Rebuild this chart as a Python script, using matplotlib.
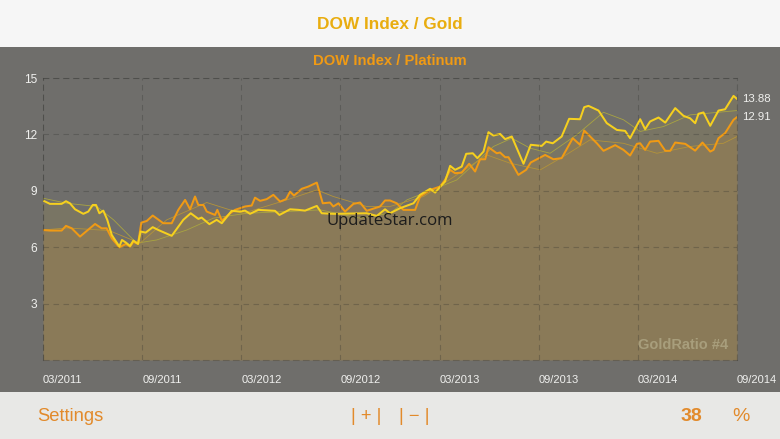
import matplotlib
matplotlib.use("Agg")
import matplotlib.pyplot as plt
from matplotlib.patches import Rectangle

# months since 03/2011
gold_months = [0,.42,1.13,1.39,1.63,1.94,2.44,2.74,3.01,3.21,3.41,3.65,3.89,4.16,4.62,4.78,5.02,5.27,5.47,5.75,5.91,6.21,6.64,6.98,7.79,8.49,8.94,9.40,9.60,10.07,10.51,10.82,11.42,11.92,12.23,12.53,13.03,14.04,14.31,14.95,15.46,15.86,16.57,16.87,17.57,19.59,20.2,20.70,21.0,21.61,22.42,22.82,23.43,23.73,24.33,24.64,24.94,25.34,25.61,26.01,26.29,26.66,26.96,27.26,27.66,27.97,28.37,29.08,29.52,30.18,30.45,30.85,31.39,31.84,32.5,32.75,33.01,33.62,34.12,34.73,35.23,35.53,36.14,36.44,36.74,37.25,37.66,38.26,38.76,39.16,39.47,39.67,39.97,40.38,40.88,41.28,41.79,42.0]
gold_ratio = [8.48,8.30,8.30,8.44,8.33,8.01,7.77,7.89,8.24,8.24,7.80,7.94,7.45,6.65,6.03,6.38,6.24,6.06,6.35,6.17,6.83,6.77,7.06,6.91,6.60,7.45,7.80,7.50,7.57,7.22,7.45,7.27,7.93,7.89,7.94,7.77,7.98,7.93,7.71,8.01,7.98,7.94,8.19,7.80,7.77,7.80,7.66,8.01,7.80,8.07,8.33,8.78,9.10,8.90,9.49,10.32,10.11,10.28,10.96,10.99,10.73,11.08,12.11,11.93,12.02,11.74,11.88,10.43,11.44,11.38,11.61,11.52,11.88,12.82,12.80,13.44,13.51,13.26,12.59,12.23,12.18,11.79,12.80,12.27,12.68,12.89,12.62,13.39,12.98,12.85,12.59,13.09,13.16,12.45,13.26,13.33,14.04,13.88]
plat_months = [0,.42,1.13,1.39,1.74,2.24,3.15,3.55,3.85,4.16,4.62,5.02,5.27,5.47,5.75,5.95,6.28,6.64,7.28,7.79,8.19,8.60,8.90,9.20,9.40,9.71,9.91,10.41,10.55,10.82,11.32,11.62,12.23,12.63,12.83,13.14,13.54,13.94,14.35,14.71,14.95,15.19,15.66,16.06,16.57,16.93,17.37,17.57,17.88,18.28,18.79,19.19,19.59,20.40,20.70,21.0,21.41,21.81,22.52,22.82,23.43,24.03,24.33,24.64,24.94,25.34,25.79,26.15,26.45,26.76,26.96,27.46,27.66,27.97,28.17,28.77,29.24,29.52,30.39,30.89,31.39,32.06,32.5,32.75,33.52,33.92,34.63,35.13,35.53,35.94,36.14,36.44,36.74,37.25,37.66,37.96,38.26,38.87,39.47,39.91,40.38,40.58,40.88,41.28,41.79,42.0]
plat_ratio = [6.91,6.88,6.88,7.13,7.00,6.56,7.23,7.00,7.00,6.47,5.99,6.17,6.03,6.29,6.17,7.30,7.39,7.68,7.27,7.27,7.98,8.51,8.01,8.69,8.24,8.24,7.89,7.71,7.98,7.41,7.80,7.98,8.16,8.21,8.63,8.46,8.55,8.78,8.42,8.55,8.95,8.74,9.10,9.22,9.43,8.33,8.37,8.16,8.33,7.89,8.30,8.37,7.93,8.16,8.48,8.48,8.33,7.98,7.98,8.69,9.04,9.22,9.57,10.11,9.93,9.96,10.43,10.02,10.67,10.67,11.31,10.99,11.03,10.78,10.78,9.84,10.11,10.50,10.90,10.67,10.73,11.79,11.44,12.20,11.52,11.12,11.42,11.17,10.87,11.49,11.52,11.17,11.61,11.65,11.12,11.12,11.56,11.49,11.13,11.56,11.08,11.17,11.79,12.06,12.77,12.91]
gold_avg_months = [0,1.45,3.25,4.27,5.67,6.88,8.70,10.31,12.33,14.75,16.77,19.19,21.0,22.02,25.04,27.26,28.37,29.48,30.69,32.3,33.92,35.13,36.14,37.55,39.16,42.0]
gold_avg = [8.60,8.33,8.16,7.45,6.21,6.38,6.91,7.54,7.80,7.89,7.98,7.54,7.80,8.51,9.57,11.35,11.79,11.26,10.99,11.97,13.17,12.77,12.15,12.41,13.03,13.26]
plat_avg_months = [0,1.45,4.0,5.87,7.49,9.91,11.32,12.13,14.75,16.57,17.57,19.59,21.0,23.03,25.04,26.86,28.27,30.1,31.5,33.1,35.13,37.15,39.16,41.18,42.0]
plat_avg = [6.91,7.02,6.88,6.21,7.45,8.37,7.98,7.80,8.51,9.04,8.69,8.16,8.16,8.69,9.84,10.90,10.46,10.11,10.82,11.70,11.52,10.99,11.35,11.52,11.88]
x_ticks = [0,6,12,18,24,30,36,42]
x_labels = ["03/2011","09/2011","03/2012","09/2012","03/2013","09/2013","03/2014","09/2014"]
y_ticks = [3,6,9,12,15]

SANS = "Liberation Sans"
BG = "#6f6e6b"
YEL = "#f6d01e"
ORG = "#f09a14"
UI = "#e28a2b"
GRID = "#333330"
GRID_ALPHA = 0.3
W, H = 780, 439

fig = plt.figure(figsize=(7.8, 4.392), dpi=100, facecolor=BG)
fig.add_artist(Rectangle((0, 1-47/H), 1, 47/H, transform=fig.transFigure, fc="#f6f6f6", ec="none"))
fig.add_artist(Rectangle((0, 0), 1, 47/H, transform=fig.transFigure, fc="#e8e8e6", ec="none"))

ax = fig.add_axes([43/W, (H-360)/H, 694/W, 282/H], facecolor=BG)
ax.set_xlim(0, 42); ax.set_ylim(0, 15)
ax.fill_between(gold_months, gold_ratio, 0, color=YEL, alpha=.08, lw=0)
ax.fill_between(plat_months, plat_ratio, 0, color=ORG, alpha=.15, lw=0)
ax.plot(gold_avg_months, gold_avg, color="#a9a441", lw=.6)
ax.plot(plat_avg_months, plat_avg, color="#b3933a", lw=.6)
ax.plot(plat_months, plat_ratio, color=ORG, lw=1.45, solid_joinstyle="round")
ax.plot(gold_months, gold_ratio, color=YEL, lw=1.45, solid_joinstyle="round")
ax.set_xticks(x_ticks); ax.set_xticklabels(x_labels, ha="left")
ax.set_yticks(y_ticks)
ax.grid(True, color=GRID, alpha=GRID_ALPHA, lw=.8, ls=(0, (5, 4)))
ax.set_axisbelow(False)
ax.tick_params(length=0, colors="#f0f0ee")
ax.tick_params(axis="x", pad=11, labelsize=8)
ax.tick_params(axis="y", pad=4, labelsize=8.6)
for l in ax.get_xticklabels() + ax.get_yticklabels():
    l.set_fontfamily(SANS)
for s in ax.spines.values():
    s.set_color(GRID); s.set_alpha(GRID_ALPHA); s.set_linestyle((0, (5, 4))); s.set_linewidth(.8)
for v, txt in ((gold_ratio[-1], f"{gold_ratio[-1]:.2f}"), (plat_ratio[-1], f"{plat_ratio[-1]:.2f}")):
    ax.annotate(txt, (42, v), xytext=(3.5, 0), textcoords="offset points", va="center",
                color="#f0f0ee", fontsize=8.2, family=SANS, annotation_clip=False)

def t(x, y, s, **k):
    fig.text(x/W, 1-y/H, s, family=k.pop("family", SANS), va="center", **k)

t(390, 24, "DOW Index / Gold", color="#e9ad10", fontsize=12.4, ha="center", fontweight="bold")
t(390, 61, "DOW Index / Platinum", color=ORG, fontsize=10.7, ha="center", fontweight="bold")
t(390, 221, "UpdateStar.com", color="#1c1c1c", fontsize=12.1, ha="center", family="Open Sans")
t(728, 345, "GoldRatio #4", color="#a89e7c", fontsize=10.5, ha="right", fontweight="bold")
t(37, 416, "Settings", color=UI, fontsize=13.2, ha="left")
t(366, 416, "| + |", color=UI, fontsize=13.2, ha="center")
t(414, 416, "| \u2212 |", color=UI, fontsize=13.2, ha="center")
t(691, 416, "38", color=UI, fontsize=14, ha="center", fontweight="bold")
t(741, 416, "%", color=UI, fontsize=14, ha="center")

fig.savefig("out.png", dpi=100, facecolor=fig.get_facecolor())
